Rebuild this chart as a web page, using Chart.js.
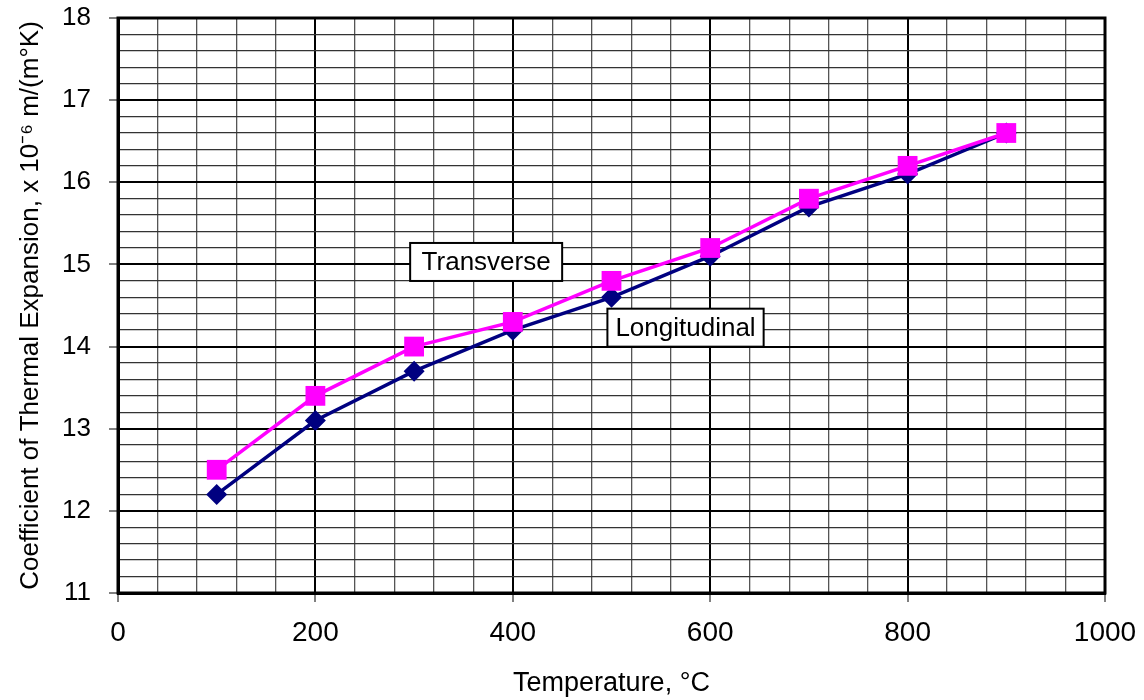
<!DOCTYPE html>
<html>
<head>
<meta charset="utf-8">
<script src="https://cdn.jsdelivr.net/npm/chart.js@4/dist/chart.umd.min.js"></script>
<style>
  html, body { margin: 0; padding: 0; background: #fff; }
  #wrap { width: 1144px; height: 700px; position: relative; }
</style>
</head>
<body>
<div id="wrap"><canvas id="c" width="1144" height="700"></canvas></div>
<script>
// ---- data ----
const temperatures = [100, 200, 300, 400, 500, 600, 700, 800, 900];
const longitudinal = [12.2, 13.1, 13.7, 14.2, 14.6, 15.1, 15.7, 16.1, 16.6];
const transverse   = [12.5, 13.4, 14.0, 14.3, 14.8, 15.2, 15.8, 16.2, 16.6];
const labelTexts = ['Transverse', 'Longitudinal'];
const labelX = [373, 575];
const labelY = [15.03, 14.23];
const xTitle = 'Temperature, °C';
const yTitle = 'Coefficient of Thermal Expansion, x 10\u207B\u2076 m/(m°K)';

const FONT = '"Liberation Sans", Arial, sans-serif';

const isMajorX = v => Math.abs(v / 200 - Math.round(v / 200)) < 1e-6;
const isMajorY = v => Math.abs(v - Math.round(v)) < 1e-6;

const framePlugin = {
  id: 'frame',
  beforeDatasetsDraw(chart) {
    const {ctx, chartArea: a} = chart;
    ctx.save();
    ctx.strokeStyle = '#000';
    ctx.lineWidth = 3;
    ctx.strokeRect(a.left, a.top, a.right - a.left, a.bottom - a.top);
    ctx.restore();
  }
};

const labelPlugin = {
  id: 'boxLabels',
  afterDatasetsDraw(chart) {
    const {ctx} = chart;
    const xs = chart.scales.x, ys = chart.scales.y;
    ctx.save();
    ctx.font = '26px ' + FONT;
    ctx.textAlign = 'center';
    ctx.textBaseline = 'middle';
    labelTexts.forEach((t, i) => {
      const cx = xs.getPixelForValue(labelX[i]);
      const cy = ys.getPixelForValue(labelY[i]);
      const w = Math.max(ctx.measureText(t).width + 16, 152);
      const h = 38;
      ctx.fillStyle = '#fff';
      ctx.fillRect(cx - w / 2, cy - h / 2, w, h);
      ctx.strokeStyle = '#000';
      ctx.lineWidth = 2;
      ctx.strokeRect(cx - w / 2, cy - h / 2, w, h);
      ctx.fillStyle = '#000';
      ctx.fillText(t, cx, cy + 1);
    });
    ctx.restore();
  }
};

new Chart(document.getElementById('c'), {
  type: 'line',
  data: {
    datasets: [
      {
        label: 'Transverse',
        data: temperatures.map((t, i) => ({x: t, y: transverse[i]})),
        borderColor: '#FF00FF',
        backgroundColor: '#FF00FF',
        borderWidth: 3.5,
        pointStyle: 'rect',
        pointRadius: 14,
        pointHoverRadius: 14,
        pointBorderWidth: 0,
        tension: 0,
        order: 1
      },
      {
        label: 'Longitudinal',
        data: temperatures.map((t, i) => ({x: t, y: longitudinal[i]})),
        borderColor: '#000080',
        backgroundColor: '#000080',
        borderWidth: 3.5,
        pointStyle: 'rectRot',
        pointRadius: 10.5,
        pointHoverRadius: 10.5,
        pointBorderWidth: 0,
        tension: 0,
        order: 2
      }
    ]
  },
  options: {
    responsive: false,
    animation: false,
    events: [],
    layout: { padding: { top: 18, right: 39, left: 0, bottom: 0 } },
    plugins: { legend: { display: false }, tooltip: { enabled: false } },
    scales: {
      x: {
        type: 'linear',
        min: 0, max: 1000,
        afterFit(s) { s.height = 107; s.paddingLeft = 0; s.paddingRight = 0; },
        ticks: {
          stepSize: 40,
          autoSkip: false,
          maxRotation: 0,
          padding: 14,
          color: '#000',
          font: { family: FONT, size: 28 },
          callback: v => isMajorX(v) ? String(Math.round(v)) : ''
        },
        grid: {
          drawTicks: true,
          tickLength: 9,
          color: c => isMajorX(c.tick.value) ? '#000' : '#555',
          lineWidth: c => isMajorX(c.tick.value) ? 2 : 1.3,
          tickColor: c => isMajorX(c.tick.value) ? '#000' : 'rgba(0,0,0,0)',
          tickWidth: 1
        },
        border: { color: '#000', width: 3 },
        title: {
          display: true,
          text: xTitle,
          color: '#000',
          font: { family: FONT, size: 27 },
          padding: { top: 1, bottom: 0 }
        }
      },
      y: {
        type: 'linear',
        min: 11, max: 18,
        afterFit(s) { s.width = 118; s.paddingTop = 0; s.paddingBottom = 0; },
        ticks: {
          stepSize: 0.2,
          autoSkip: false,
          padding: 18,
          color: '#000',
          font: { family: FONT, size: 26 },
          callback: v => isMajorY(v) ? String(Math.round(v)) : ''
        },
        grid: {
          drawTicks: true,
          tickLength: 9,
          color: c => isMajorY(c.tick.value) ? '#000' : '#333',
          lineWidth: c => isMajorY(c.tick.value) ? 2 : 1.3,
          tickColor: c => isMajorY(c.tick.value) ? '#000' : 'rgba(0,0,0,0)',
          tickWidth: 1
        },
        border: { color: '#000', width: 3 },
        title: {
          display: true,
          text: yTitle,
          color: '#000',
          font: { family: FONT, size: 26 },
          padding: { top: 15, bottom: 0 }
        }
      }
    }
  },
  plugins: [framePlugin, labelPlugin]
});
</script>
</body>
</html>
